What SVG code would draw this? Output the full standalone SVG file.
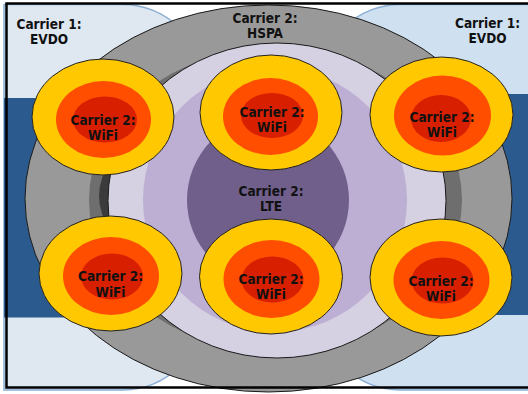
<svg xmlns="http://www.w3.org/2000/svg" width="528" height="394" viewBox="0 0 528 394">
  <style>
    .lbl { font-family: "DejaVu Sans Condensed", "DejaVu Sans", sans-serif; font-stretch: condensed; font-weight: bold; font-size: 13.5px; fill: #111; text-anchor: middle; }
    .wifi-outer { fill: #ffc800; stroke: #222; stroke-width: 1; }
    .wifi-mid { fill: #ff4e00; }
    .wifi-core { fill: #d81f00; }
    .evdo { stroke: #8aaed4; stroke-width: 1.5; }
  </style>

  <rect x="0" y="0" width="528" height="394" fill="#ffffff"/>

  <!-- Carrier 1 EVDO coverage, left and right (rounded on the inner side only) -->
  <g id="evdo-left">
    <path class="evdo" d="M4,4.5 H123 A80,80 0 0 1 203,84.5 V310 A80,80 0 0 1 123,390 H4 Z" fill="#dfe8f1"/>
  </g>
  <g id="evdo-right">
    <path class="evdo" d="M540,4.5 H400 A80,80 0 0 0 320,84.5 V310 A80,80 0 0 0 400,390 H540 Z" fill="#cfe0f1"/>
  </g>

  <!-- dark band across the EVDO areas -->
  <g id="evdo-band">
    <rect x="4" y="98" width="202" height="219.5" fill="#2a5a8e"/>
    <rect x="330" y="94" width="198" height="221" fill="#2a5a8e"/>
  </g>

  <!-- Carrier 2 HSPA coverage -->
  <g id="hspa">
    <ellipse cx="268.5" cy="198.5" rx="243.5" ry="193.5" fill="#999999" stroke="#1a1a1a" stroke-width="1"/>
    <ellipse cx="275.5" cy="200" rx="186.5" ry="152" fill="#6e6e6e"/>
    <ellipse cx="270" cy="196" rx="171" ry="95" fill="#3b3b3b"/>
    <ellipse cx="277" cy="200.5" rx="169" ry="157.5" fill="#d5d0e2" stroke="#1a1a1a" stroke-width="1"/>
    <circle cx="275" cy="200" r="132" fill="#bcafd3"/>
  </g>

  <!-- Carrier 2 LTE coverage -->
  <g id="lte">
    <ellipse cx="268" cy="200" rx="81" ry="83" fill="#705f8b"/>
    <text class="lbl" x="271" y="196">Carrier 2:</text>
    <text class="lbl" x="271" y="211">LTE</text>
  </g>

  <!-- Carrier 2 WiFi hotspots -->
  <g id="wifi-top-left">
    <ellipse class="wifi-outer" cx="103" cy="117" rx="71" ry="58"/>
    <ellipse class="wifi-mid" cx="103.5" cy="119.5" rx="47.5" ry="38.5"/>
    <ellipse class="wifi-core" cx="105" cy="119.5" rx="32" ry="23"/>
    <text class="lbl" x="103" y="125">Carrier 2:</text>
    <text class="lbl" x="103" y="140">WiFi</text>
  </g>
  <g id="wifi-top-middle">
    <ellipse class="wifi-outer" cx="271" cy="112.5" rx="71" ry="57.5"/>
    <ellipse class="wifi-mid" cx="270.5" cy="116.5" rx="47.5" ry="38.5"/>
    <ellipse class="wifi-core" cx="272" cy="115.5" rx="31" ry="22.5"/>
    <text class="lbl" x="272" y="117">Carrier 2:</text>
    <text class="lbl" x="272" y="132">WiFi</text>
  </g>
  <g id="wifi-top-right">
    <ellipse class="wifi-outer" cx="441.5" cy="114.5" rx="71.5" ry="57.5"/>
    <ellipse class="wifi-mid" cx="442.5" cy="115.5" rx="48.5" ry="40"/>
    <ellipse class="wifi-core" cx="441" cy="118.5" rx="30" ry="23.5"/>
    <text class="lbl" x="442" y="122">Carrier 2:</text>
    <text class="lbl" x="442" y="137">WiFi</text>
  </g>
  <g id="wifi-bottom-left">
    <ellipse class="wifi-outer" cx="110.5" cy="273.5" rx="71.5" ry="57.5"/>
    <ellipse class="wifi-mid" cx="111" cy="276" rx="48" ry="39"/>
    <ellipse class="wifi-core" cx="112" cy="276.5" rx="31" ry="23"/>
    <text class="lbl" x="110.5" y="281">Carrier 2:</text>
    <text class="lbl" x="110.5" y="297">WiFi</text>
  </g>
  <g id="wifi-bottom-middle">
    <ellipse class="wifi-outer" cx="271" cy="276.5" rx="71.5" ry="57.5"/>
    <ellipse class="wifi-mid" cx="271.5" cy="279" rx="48" ry="39"/>
    <ellipse class="wifi-core" cx="272.5" cy="279.5" rx="31" ry="23"/>
    <text class="lbl" x="271" y="284">Carrier 2:</text>
    <text class="lbl" x="271" y="299">WiFi</text>
  </g>
  <g id="wifi-bottom-right">
    <ellipse class="wifi-outer" cx="441" cy="277.5" rx="71" ry="58.5"/>
    <ellipse class="wifi-mid" cx="441.5" cy="280" rx="48" ry="39"/>
    <ellipse class="wifi-core" cx="442.5" cy="280.5" rx="31" ry="23"/>
    <text class="lbl" x="441" y="286">Carrier 2:</text>
    <text class="lbl" x="441" y="301">WiFi</text>
  </g>

  <!-- coverage labels -->
  <g id="labels">
    <text class="lbl" x="49" y="29">Carrier 1:</text>
    <text class="lbl" x="49" y="44">EVDO</text>
    <text class="lbl" x="487.5" y="28">Carrier 1:</text>
    <text class="lbl" x="487.5" y="43">EVDO</text>
    <text class="lbl" x="265" y="23">Carrier 2:</text>
    <text class="lbl" x="265" y="38">HSPA</text>
  </g>

  <!-- connectors: none in this figure -->
  <g id="connectors"/>

  <!-- frame -->
  <rect x="6.5" y="3.5" width="560" height="384" fill="none" stroke="#000" stroke-width="2.5"/>
</svg>
